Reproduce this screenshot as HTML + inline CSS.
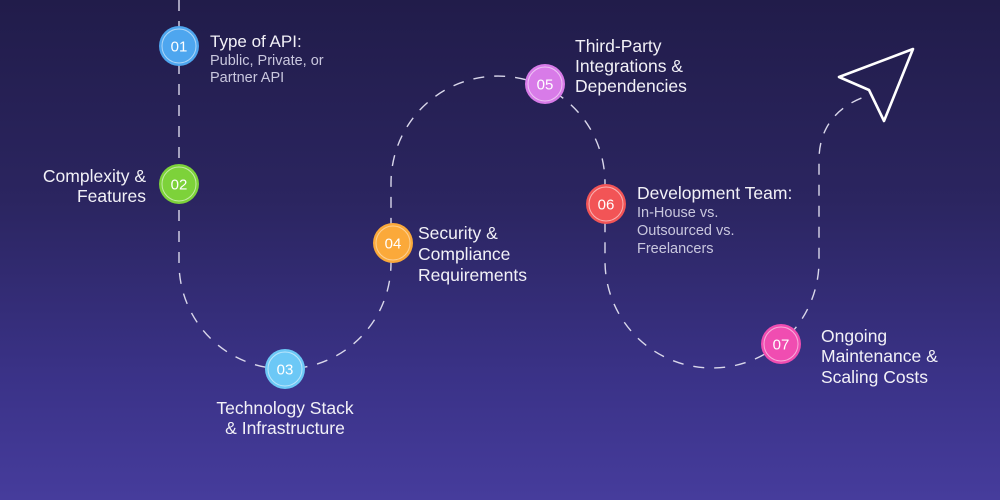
<!DOCTYPE html>
<html><head><meta charset="utf-8"><style>
html,body{margin:0;padding:0;width:1000px;height:500px;overflow:hidden;}
body{background:linear-gradient(180deg,#211c4a 0%,#2b2560 40%,#3a3287 75%,#463c9c 100%);}
svg{display:block;}
text{font-family:"Liberation Sans",sans-serif;}
.h{fill:#f2f1f7;font-size:17.5px;}
.s{fill:#c9c7de;font-size:14.5px;}
.n{fill:#ffffff;font-size:15px;text-anchor:middle;}
</style></head><body>
<svg width="1000" height="500" viewBox="0 0 1000 500" xmlns="http://www.w3.org/2000/svg">
<path d="M179,0 V263 A106,106 0 0 0 391,263 V183 A107,107 0 0 1 605,183 V261 A107,107 0 0 0 819,261 V160 C819,125 840,105 867,96" fill="none" stroke="#d9d7ea" stroke-width="1.4" stroke-dasharray="11,10"/>
<polygon points="913,49 839,77 869,90 884,121" fill="none" stroke="#ffffff" stroke-width="2.6" stroke-linejoin="round"/>

<g>
<circle cx="179" cy="46" r="20" fill="#4ea6ef"/><circle cx="179" cy="46" r="17" fill="none" stroke="#ffffff" stroke-opacity="0.55" stroke-width="1"/><text class="n" x="179" y="51.5">01</text>
<circle cx="179" cy="184" r="20" fill="#7dd23a"/><circle cx="179" cy="184" r="17" fill="none" stroke="#ffffff" stroke-opacity="0.55" stroke-width="1"/><text class="n" x="179" y="189.5">02</text>
<circle cx="285" cy="369" r="20" fill="#6cc8f6"/><circle cx="285" cy="369" r="17" fill="none" stroke="#ffffff" stroke-opacity="0.55" stroke-width="1"/><text class="n" x="285" y="374.5">03</text>
<circle cx="393" cy="243" r="20" fill="#fba93a"/><circle cx="393" cy="243" r="17" fill="none" stroke="#ffffff" stroke-opacity="0.45" stroke-width="1"/><text class="n" x="393" y="248.5">04</text>
<circle cx="545" cy="84" r="20" fill="#d87be8"/><circle cx="545" cy="84" r="17" fill="none" stroke="#ffffff" stroke-opacity="0.55" stroke-width="1"/><text class="n" x="545" y="89.5">05</text>
<circle cx="606" cy="204" r="20" fill="#f25456"/><circle cx="606" cy="204" r="17" fill="none" stroke="#ffffff" stroke-opacity="0.55" stroke-width="1"/><text class="n" x="606" y="209.5">06</text>
<circle cx="781" cy="344" r="20" fill="#f04db1"/><circle cx="781" cy="344" r="17" fill="none" stroke="#ffffff" stroke-opacity="0.55" stroke-width="1"/><text class="n" x="781" y="349.5">07</text>
</g>

<text class="h" x="210" y="47" style="font-size:17px">Type of API:</text>
<text class="s" x="210" y="65">Public, Private, or</text>
<text class="s" x="210" y="82">Partner API</text>

<text class="h" x="146" y="182" text-anchor="end">Complexity &amp;</text>
<text class="h" x="146" y="202" text-anchor="end">Features</text>

<text class="h" x="285" y="414" text-anchor="middle">Technology Stack</text>
<text class="h" x="285" y="434" text-anchor="middle">&amp; Infrastructure</text>

<text class="h" x="418" y="239">Security &amp;</text>
<text class="h" x="418" y="260">Compliance</text>
<text class="h" x="418" y="281">Requirements</text>

<text class="h" x="575" y="52">Third-Party</text>
<text class="h" x="575" y="72">Integrations &amp;</text>
<text class="h" x="575" y="92">Dependencies</text>

<text class="h" x="637" y="199">Development Team:</text>
<text class="s" x="637" y="217">In-House vs.</text>
<text class="s" x="637" y="235">Outsourced vs.</text>
<text class="s" x="637" y="253">Freelancers</text>

<text class="h" x="821" y="342">Ongoing</text>
<text class="h" x="821" y="362">Maintenance &amp;</text>
<text class="h" x="821" y="383">Scaling Costs</text>
</svg>
</body></html>
